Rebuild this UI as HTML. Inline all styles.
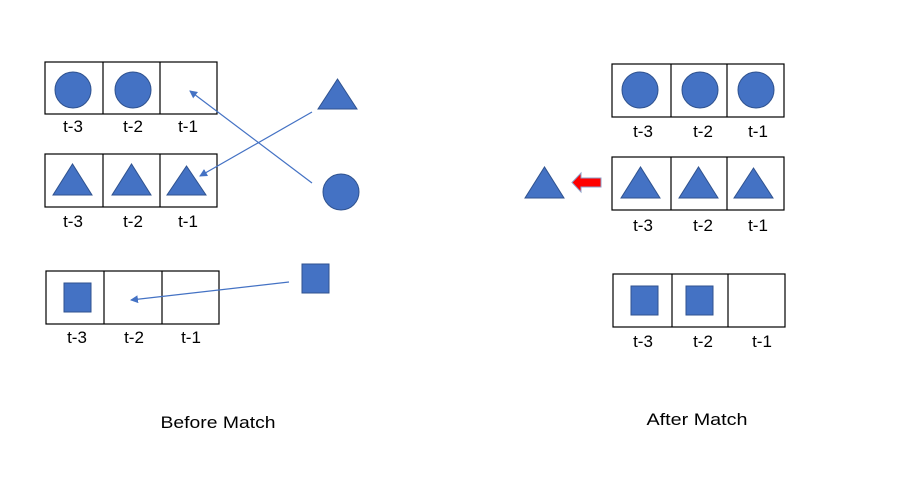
<!DOCTYPE html>
<html><head><meta charset="utf-8"><style>html,body{margin:0;padding:0;background:#fff}svg{display:block}</style></head>
<body>
<svg width="913" height="480" viewBox="0 0 913 480" xmlns="http://www.w3.org/2000/svg" font-family="Liberation Sans, sans-serif">
<defs>
<marker id="ah" markerWidth="8" markerHeight="8" refX="7" refY="4" orient="auto" markerUnits="userSpaceOnUse">
<path d="M0,0 L8,4 L0,8 z" fill="#4472C4"/></marker>
</defs>
<g fill="none" stroke="#000" stroke-width="1.2">
<rect x="45" y="62" width="172" height="52"/><line x1="103" y1="62" x2="103" y2="114"/><line x1="160" y1="62" x2="160" y2="114"/>
<rect x="45" y="154" width="172" height="53"/><line x1="103" y1="154" x2="103" y2="207"/><line x1="160" y1="154" x2="160" y2="207"/>
<rect x="46" y="271" width="173" height="53"/><line x1="104" y1="271" x2="104" y2="324"/><line x1="162" y1="271" x2="162" y2="324"/>
<rect x="612" y="64" width="172" height="53"/><line x1="671" y1="64" x2="671" y2="117"/><line x1="727" y1="64" x2="727" y2="117"/>
<rect x="612" y="157" width="172" height="53"/><line x1="671" y1="157" x2="671" y2="210"/><line x1="727" y1="157" x2="727" y2="210"/>
<rect x="613" y="274" width="172" height="53"/><line x1="672" y1="274" x2="672" y2="327"/><line x1="728" y1="274" x2="728" y2="327"/>
</g>
<g fill="#4472C4" stroke="#2F528F" stroke-width="1">
<circle cx="73" cy="90" r="18"/><circle cx="133" cy="90" r="18"/>
<polygon points="53,195 92,195 72.5,164"/><polygon points="112,195 151,195 131.5,164"/><polygon points="167,195 206,195 186.5,166"/>
<rect x="64" y="283" width="27" height="29"/>
<polygon points="318,109 357,109 337.5,79"/>
<circle cx="341" cy="192" r="18"/>
<rect x="302" y="264" width="27" height="29"/>
<circle cx="640" cy="90" r="18"/><circle cx="700" cy="90" r="18"/><circle cx="756" cy="90" r="18"/>
<polygon points="621,198 660,198 640.5,167"/><polygon points="679,198 718,198 698.5,167"/><polygon points="734,198 773,198 753.5,168"/>
<polygon points="525,198 564,198 544.5,167"/>
<rect x="631" y="286" width="27" height="29"/><rect x="686" y="286" width="27" height="29"/>
</g>
<g stroke="#4472C4" stroke-width="1.2" fill="none">
<line x1="312" y1="112" x2="200" y2="176" marker-end="url(#ah)"/>
<line x1="312" y1="183" x2="190" y2="91" marker-end="url(#ah)"/>
<line x1="289" y1="282" x2="131" y2="300" marker-end="url(#ah)"/>
</g>
<polygon points="572,182.5 581,173 581,178 601,178 601,187 581,187 581,192" fill="#FF0000" stroke="#8EA0C8" stroke-width="1"/>
<g font-size="17" text-anchor="middle" fill="#000">
<text x="73" y="132">t-3</text><text x="133" y="132">t-2</text><text x="188" y="132">t-1</text>
<text x="73" y="227">t-3</text><text x="133" y="227">t-2</text><text x="188" y="227">t-1</text>
<text x="77" y="343">t-3</text><text x="134" y="343">t-2</text><text x="191" y="343">t-1</text>
<text x="643" y="137">t-3</text><text x="703" y="137">t-2</text><text x="758" y="137">t-1</text>
<text x="643" y="231">t-3</text><text x="703" y="231">t-2</text><text x="758" y="231">t-1</text>
<text x="643" y="347">t-3</text><text x="703" y="347">t-2</text><text x="762" y="347">t-1</text>
<text x="218" y="428" textLength="115" lengthAdjust="spacingAndGlyphs">Before Match</text>
<text x="697" y="425" textLength="101" lengthAdjust="spacingAndGlyphs">After Match</text>
</g>
</svg>
</body></html>
